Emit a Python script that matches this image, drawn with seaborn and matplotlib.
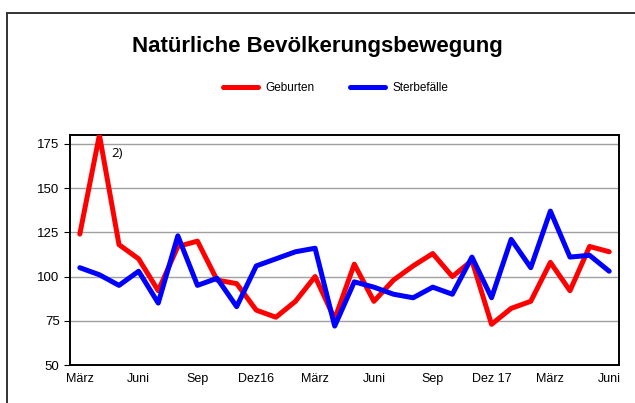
import pandas as pd
import numpy as np
import matplotlib
matplotlib.use("Agg")
import matplotlib.pyplot as plt
import seaborn as sns

monate = ["März", "Apr", "Mai", "Juni", "Jul", "Aug", "Sep", "Okt", "Nov", "Dez16",
          "Jan", "Feb", "März", "Apr", "Mai", "Juni", "Jul", "Aug", "Sep", "Okt", "Nov", "Dez 17",
          "Jan", "Feb", "März", "Apr", "Mai", "Juni"]
geburten = [124, 180, 118, 110, 92, 117, 120, 98, 96, 81, 77, 86, 100,
            76, 107, 86, 98, 106, 113, 100, 109, 73, 82, 86, 108, 92, 117, 114]
sterbefaelle = [105, 101, 95, 103, 85, 123, 95, 99, 83, 106, 110, 114, 116,
                72, 97, 94, 90, 88, 94, 90, 111, 88, 121, 105, 137, 111, 112, 103]
beschriftet = [0, 3, 6, 9, 12, 15, 18, 21, 24, 27]

df = pd.DataFrame({"idx": np.arange(len(monate)),
                   "Geburten": geburten, "Sterbefälle": sterbefaelle})
mdf = pd.melt(df, id_vars=["idx"], var_name="Reihe", value_name="Wert")

sns.set_style("white")
plt.rcParams["font.family"] = ["Liberation Sans", "DejaVu Sans"]
plt.rcParams["text.color"] = "black"
plt.rcParams["xtick.color"] = "black"
plt.rcParams["ytick.color"] = "black"

fig = plt.figure(figsize=(6.35, 4.03), dpi=100)
ax = fig.add_axes([70 / 635, 1 - 365 / 403, 549 / 635, 230 / 403])

sns.lineplot(data=mdf, x="idx", y="Wert", hue="Reihe",
             palette={"Geburten": "#ff0000", "Sterbefälle": "#0000ff"},
             linewidth=3.6, ax=ax, legend=False, zorder=3)

ax.set_xlim(-0.5, len(monate) - 0.5)
ax.set_ylim(50, 180)
ax.set_yticks([50, 75, 100, 125, 150, 175])
ax.set_xticks(beschriftet)
ax.set_xticklabels([monate[i] for i in beschriftet])
ax.set_xticks(np.arange(-0.5, len(monate), 1), minor=True)
ax.tick_params(axis="x", which="major", length=0, labelsize=9, pad=6)
ax.tick_params(axis="x", which="minor", length=4, width=0.8, color="#555555", direction="out")
ax.tick_params(axis="y", length=4, width=0.8, labelsize=9.5, direction="out", left=True)
ax.set_xlabel("")
ax.set_ylabel("")

for v in [75, 100, 125, 150, 175]:
    ax.axhline(v, color="#a0a0a0", linewidth=1, zorder=1)
for s in ax.spines.values():
    s.set_color("black")
    s.set_linewidth(1.4)

ax.text(1.6, 169.5, "2)", fontsize=9.5, family=["Open Sans", "DejaVu Sans"],
        va="center", ha="left", color="black")

fig.text(0.5, 1 - 52 / 403, "Natürliche Bevölkerungsbewegung", ha="center",
         va="baseline", fontsize=16, fontweight="bold", color="black")

handles = [plt.Line2D([], [], color="#ff0000", linewidth=3.6),
           plt.Line2D([], [], color="#0000ff", linewidth=3.6)]
fig.legend(handles, ["Geburten", "Sterbefälle"], loc="center",
           bbox_to_anchor=(0.5 + 18 / 635, 1 - 88 / 403), ncol=2, frameon=False,
           fontsize=8.5, handlelength=3.0, columnspacing=3.0, handletextpad=0.6)

rahmen = plt.Rectangle((7 / 635, -0.1), 1.2, 1 - 13 / 403 + 0.1, transform=fig.transFigure,
                       fill=False, edgecolor="#333333", linewidth=1.4)
fig.patches.append(rahmen)

fig.savefig("out.png", dpi=100)
